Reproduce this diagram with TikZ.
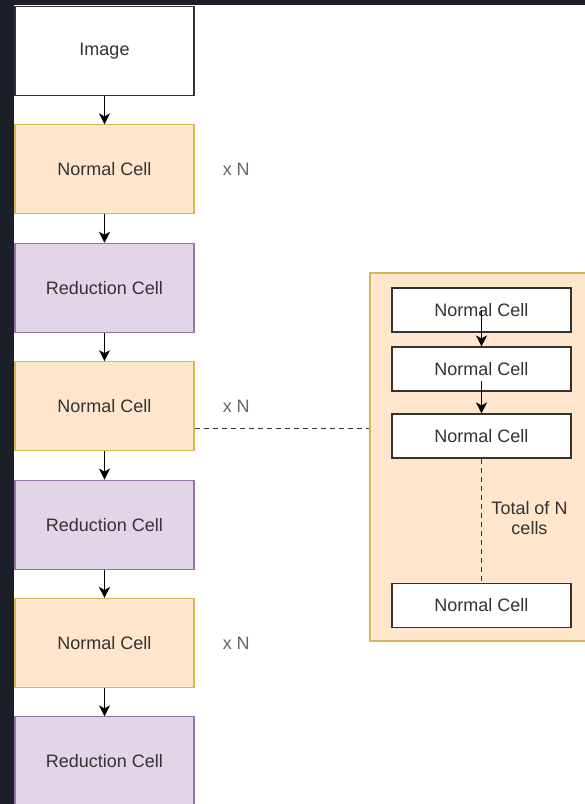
\documentclass[tikz,border=0pt]{standalone}
\usepackage{fontspec}
\setmainfont{Liberation Sans}
\usetikzlibrary{arrows.meta,positioning}

\definecolor{darkbg}{HTML}{1B1F2A}
\definecolor{txtgray}{HTML}{333333}
\definecolor{normfill}{HTML}{FFE6CC}
\definecolor{normline}{HTML}{D6B656}
\definecolor{redfill}{HTML}{E1D5E7}
\definecolor{redline}{HTML}{9673A6}

\tikzset{
  cell/.style={draw, line width=1.1pt, minimum width=179pt, minimum height=89pt,
    inner sep=0pt, text=txtgray, font=\fontsize{18}{21.6}\selectfont},
  imgbox/.style={cell, draw=txtgray, fill=white},
  normal/.style={cell, draw=normline, fill=normfill},
  reduction/.style={cell, draw=redline, fill=redfill},
  small/.style={draw=txtgray, fill=white, line width=1.1pt, minimum width=179pt,
    minimum height=44pt, inner sep=0pt, text=txtgray, font=\fontsize{18}{21.6}\selectfont},
  group/.style={draw=normline, fill=normfill, line width=1.1pt, minimum width=240pt,
    minimum height=368pt, inner sep=0pt},
  xn/.style={inner sep=0pt, text=gray!80!black, font=\fontsize{18}{21.6}\selectfont},
  arr/.style={-{Stealth[length=11pt,width=11pt,inset=3pt]}, line width=1.1pt, draw=black},
  dashline/.style={line width=1.1pt, draw=txtgray, dash pattern=on 5pt off 4pt}
}

\begin{document}
\begin{tikzpicture}[x=1pt,y=-1pt]
  \useasboundingbox (0,0) rectangle (585,804);
  \clip (0,0) rectangle (585,804);
  \fill[darkbg] (0,0) rectangle (585,804);
  \fill[white] (14,5) rectangle (585,804);

  \foreach \i/\nm/\kind/\txt in {0/img/imgbox/Image, 1/nc1/normal/Normal Cell,
      2/rc1/reduction/Reduction Cell, 3/nc2/normal/Normal Cell,
      4/rc2/reduction/Reduction Cell, 5/nc3/normal/Normal Cell,
      6/rc3/reduction/Reduction Cell}
    \node[\kind] (\nm) at (104.5,{51+118.4*\i}) {\txt};

  \foreach \a/\b in {img/nc1, nc1/rc1, rc1/nc2, nc2/rc2, rc2/nc3, nc3/rc3}
    \draw[arr] (\a) -- (\b);

  \foreach \nm in {nc1,nc2,nc3}
    \node[xn, right=28pt of \nm] (x\nm) {x N};

  \node[group] (grp) at (490,457) {};
  \foreach \j/\y in {1/310, 2/369, 3/436, 4/605.5}
    \node[small] (c\j) at (481.5,\y) {Normal Cell};

  \draw[arr] (c1.center) -- (c2.north);
  \draw[arr] ([yshift=-12pt]c2.center) -- (c3.north);
  \draw[dashline] (c3.south) -- (c4.north);
  \node[align=center, inner sep=0pt, text=txtgray, font=\fontsize{18}{20}\selectfont]
    (tot) at (529.5,518) {Total of N\\cells};

  \draw[dashline] ([yshift=-22pt]nc2.east) -- ([yshift=-22pt]nc2.east -| grp.west);
\end{tikzpicture}
\end{document}
